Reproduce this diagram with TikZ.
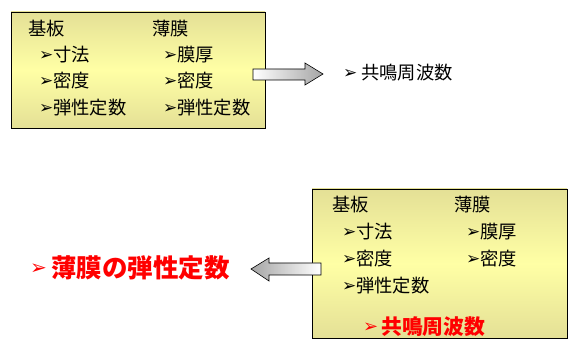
\documentclass[tikz,border=0pt]{standalone}
\usepackage{fontspec}
\newfontfamily\jp{Noto Sans CJK JP}
\newfontfamily\sym{DejaVu Sans}
\definecolor{boxedge}{RGB}{228,224,150}
\definecolor{boxmid}{RGB}{255,255,165}
\definecolor{arrgray}{RGB}{165,165,165}
\definecolor{redtxt}{RGB}{255,0,0}
\tikzset{
  panel/.style={draw=black, line width=0.8pt, top color=boxedge, bottom color=boxedge, middle color=boxmid},
  blockarrow/.style={draw=black, line width=0.6pt},
  lbl/.style={anchor=west, inner sep=0pt, font=\jp\fontsize{18.3}{20}\selectfont, text=black},
  bul/.style={anchor=west, inner sep=0pt, font=\sym\fontsize{17}{18}\selectfont, text=black},
  redbig/.style={anchor=west, inner sep=0pt, font=\jp\bfseries\fontsize{25.5}{28}\selectfont, text=redtxt},
  redmid/.style={anchor=west, inner sep=0pt, font=\jp\bfseries\fontsize{20.8}{24}\selectfont, text=redtxt},
}
\begin{document}
\begin{tikzpicture}[x=1pt,y=-1pt]
\useasboundingbox (0,0) rectangle (578,352);
% top panel
\shade[panel] (11,12) rectangle (265,128);
\node[lbl] (a1) at (28,29) {基板};
\node[lbl] (a2) at (152,29) {薄膜};
\node[bul] (u3) at (39,56) {➢};
\node[lbl] (a3) at (53,55) {寸法};
\node[bul] (u4) at (39,82) {➢};
\node[lbl] (a4) at (53,81) {密度};
\node[bul] (u5) at (39,109) {➢};
\node[lbl] (a5) at (53,108) {弾性定数};
\node[bul] (u6) at (163,56) {➢};
\node[lbl] (a6) at (177,55) {膜厚};
\node[bul] (u7) at (163,82) {➢};
\node[lbl] (a7) at (177,81) {密度};
\node[bul] (u8) at (163,109) {➢};
\node[lbl] (a8) at (177,108) {弾性定数};
% top arrow
\shade[blockarrow, left color=white, right color=arrgray]
  (253,69) -- (305,69) -- (305,63) -- (323,74) -- (305,85) -- (305,80) -- (253,80) -- cycle;
\node[bul] (ur1) at (343,74) {➢};
\node[lbl] (r1) at (361,73) {共鳴周波数};
% bottom panel
\shade[panel] (312,189) rectangle (567,338);
\node[lbl] (b1) at (332,205) {基板};
\node[lbl] (b2) at (454,205) {薄膜};
\node[bul] (v3) at (342,233) {➢};
\node[lbl] (b3) at (356,232) {寸法};
\node[bul] (v4) at (342,260) {➢};
\node[lbl] (b4) at (356,259) {密度};
\node[bul] (v5) at (342,287) {➢};
\node[lbl] (b5) at (356,286) {弾性定数};
\node[bul] (v6) at (466,233) {➢};
\node[lbl] (b6) at (480,232) {膜厚};
\node[bul] (v7) at (466,260) {➢};
\node[lbl] (b7) at (480,259) {密度};
\node[bul, text=redtxt, font=\sym\fontsize{18}{20}\selectfont] (v8) at (363,328) {➢};
\node[redmid] (b8) at (381,327) {共鳴周波数};
% left arrow
\shade[blockarrow, left color=arrgray, right color=white]
  (321,263) -- (269,263) -- (269,258) -- (251,269) -- (269,281) -- (269,275) -- (321,275) -- cycle;
\node[bul, text=redtxt, font=\sym\fontsize{20}{22}\selectfont] (v9) at (30,269) {➢};
\node[redbig] (r2) at (51,268) {薄膜の弾性定数};
\end{tikzpicture}
\end{document}
